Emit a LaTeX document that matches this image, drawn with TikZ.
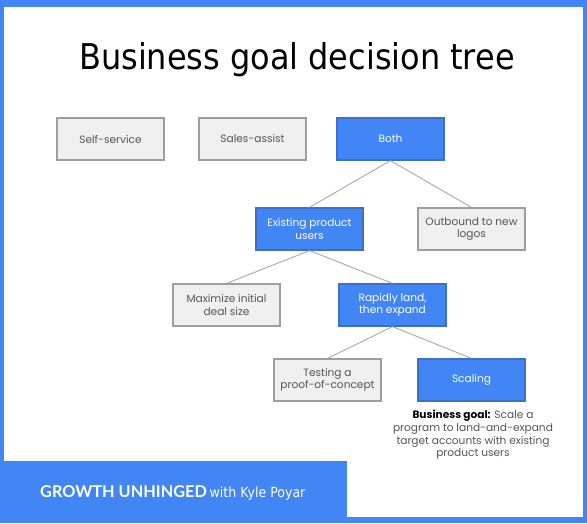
\documentclass[tikz,border=0pt]{standalone}
\usepackage{fontspec}
\setmainfont{Poppins}
\newfontfamily\titlefont{DejaVu Sans Condensed}
\newfontfamily\bannerfont{Lato}
\definecolor{gblue}{HTML}{4285F4}
\definecolor{bblue}{HTML}{3B6FC8}
\definecolor{boxgray}{HTML}{EFEFEF}
\definecolor{edgegray}{HTML}{9E9E9E}
\definecolor{txtgray}{HTML}{555555}
\definecolor{linegray}{HTML}{A8A8A8}
\tikzset{
  graybox/.style={draw=edgegray, line width=1.2pt, fill=boxgray, minimum width=107pt, minimum height=42pt, align=center, text=txtgray, font=\fontsize{10.6}{12.5}\selectfont, inner sep=2pt},
  bluebox/.style={draw=bblue, line width=1.2pt, fill=gblue, minimum width=107pt, minimum height=42pt, align=center, text=white, font=\fontsize{10.6}{12.5}\selectfont, inner sep=2pt},
  conn/.style={draw=linegray, line width=0.9pt}
}
\begin{document}
\begin{tikzpicture}[x=1pt,y=-1pt]
\useasboundingbox (0,0) rectangle (587,523);
\fill[gblue] (0,0) rectangle (587,523);
\fill[white] (4,7) rectangle (583,517);
\fill[gblue] (0,461) rectangle (347,523);
\node[font=\titlefont\fontsize{35.5}{38}\selectfont, text=black] (title) at (297,60) {Business goal decision tree};
\node[graybox] (self) at (110.5,139) {Self-service};
\node[graybox] (sales) at (252.5,139) {Sales-assist};
\node[bluebox] (both) at (390.5,139) {Both};
\node[bluebox] (exist) at (309.5,229) {Existing product\\users};
\node[graybox] (outb) at (471.5,229) {Outbound to new\\logos};
\node[graybox] (maxi) at (226.5,305) {Maximize initial\\deal size};
\node[bluebox] (rapid) at (392.5,305) {Rapidly land,\\then expand};
\node[graybox] (test) at (327.5,380) {Testing a\\proof-of-concept};
\node[bluebox] (scal) at (471.5,380) {Scaling};
\node[align=center, text=txtgray, font=\fontsize{10.6}{12.7}\selectfont] (goal) at (473,435) {{\color{black}\bfseries Business goal:} Scale a\\program to land-and-expand\\target accounts with existing\\product users};
\draw[conn] (both.south) -- (exist.north);
\draw[conn] (both.south) -- (outb.north);
\draw[conn] (exist.south) -- (maxi.north);
\draw[conn] (exist.south) -- (rapid.north);
\draw[conn] (rapid.south) -- (test.north);
\draw[conn] (rapid.south) -- (scal.north);
\node[anchor=base west, text=white, inner sep=0pt] (banner) at (40,497) {{\bannerfont\bfseries\fontsize{16.3}{18}\selectfont GROWTH UNHINGED} {\titlefont\fontsize{14}{16}\selectfont with Kyle Poyar}};
\end{tikzpicture}
\end{document}
